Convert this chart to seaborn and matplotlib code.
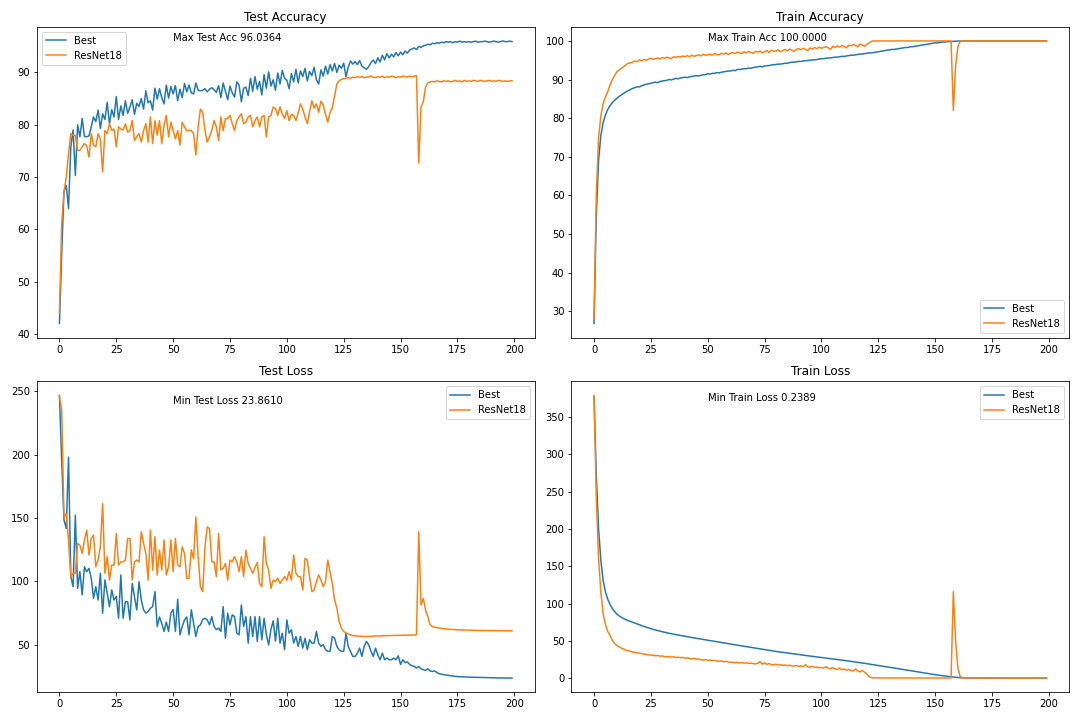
import matplotlib
matplotlib.use("Agg")
import matplotlib.pyplot as plt
import seaborn as sns
import numpy as np

epochs = np.arange(200)

test_acc_best = [
42.0, 55.5, 67.2, 68.4, 64.0, 75.7, 79.0, 70.3, 80.0, 77.7,
81.2, 77.8, 77.7, 77.9, 79.6, 81.5, 80.6, 82.8, 79.3, 82.1,
81.0, 84.3, 80.2, 82.9, 81.5, 85.4, 81.0, 83.6, 81.8, 84.6,
82.2, 83.4, 84.8, 82.0, 84.1, 83.5, 85.0, 83.0, 86.5, 84.2,
84.6, 82.8, 87.0, 84.9, 86.9, 85.2, 84.0, 87.6, 85.1, 87.3,
85.9, 87.5, 84.6, 86.8, 85.2, 87.9, 86.3, 87.6, 86.1, 85.9,
88.0, 86.6, 86.5, 86.6, 86.9, 86.3, 86.8, 87.1, 86.7, 86.2,
87.5, 85.2, 88.0, 86.4, 84.8, 87.4, 86.1, 85.3, 88.2, 87.6,
84.4, 87.0, 87.2, 85.6, 88.9, 86.4, 89.2, 86.8, 88.3, 85.7,
89.6, 87.0, 90.1, 87.4, 88.6, 86.6, 89.9, 87.8, 90.4, 88.9,
88.5, 86.9, 89.8, 88.2, 90.6, 88.0, 90.3, 89.2, 90.8, 88.4,
90.2, 89.4, 91.0, 88.6, 87.8, 90.5, 89.3, 91.2, 89.7, 91.5,
90.3, 91.7, 90.0, 91.4, 90.8, 91.8, 89.2, 91.0, 92.2, 91.6,
92.1, 91.5, 92.3, 91.2, 90.9, 90.6, 91.1, 91.9, 92.4, 91.7,
92.8, 92.0, 93.3, 92.4, 93.6, 92.8, 93.5, 93.0, 93.8, 93.2,
93.9, 93.4, 94.1, 93.7, 94.3, 94.5, 94.7, 94.4, 95.0, 94.8,
95.1, 95.2, 95.4, 95.3, 95.6, 95.5, 95.7, 95.6, 95.8, 95.7,
95.9, 95.8, 95.9, 95.7, 95.9, 95.8, 96.0, 95.8, 95.9, 95.8,
95.9, 95.8, 95.9, 96.0, 95.8, 95.9, 95.9, 96.0, 95.9, 95.8,
95.9, 96.0, 95.9, 95.8, 95.9, 96.0364, 95.9, 95.9, 96.0, 95.9,
]

test_acc_resnet = [
44.0, 61.0, 67.2, 70.0, 74.5, 78.3, 78.0, 78.0, 75.1, 75.1,
75.8, 76.4, 76.0, 73.8, 78.3, 76.1, 75.8, 78.3, 77.3, 71.0,
78.9, 78.3, 80.2, 78.9, 79.2, 75.8, 79.6, 79.2, 79.0, 80.2,
78.6, 78.9, 80.8, 77.0, 77.7, 78.3, 76.7, 78.9, 80.2, 76.7,
81.5, 76.4, 80.8, 78.0, 80.8, 76.4, 79.9, 81.8, 77.7, 80.5,
78.9, 77.3, 78.9, 76.1, 80.5, 79.6, 78.9, 78.9, 78.9, 78.3,
74.2, 79.6, 83.0, 82.4, 78.9, 76.7, 77.7, 78.9, 80.8, 79.6,
77.0, 81.5, 78.9, 81.2, 81.2, 81.8, 80.2, 78.9, 80.8, 81.5,
82.1, 80.2, 80.5, 81.5, 81.8, 79.6, 80.8, 81.5, 79.6, 81.5,
81.8, 77.7, 81.5, 81.8, 83.4, 83.1, 81.8, 83.4, 82.1, 81.2,
82.7, 80.8, 82.0, 81.8, 80.8, 82.3, 84.0, 83.0, 81.5, 80.2,
82.5, 84.6, 83.2, 84.0, 82.4, 84.5, 83.8, 82.0, 80.5, 82.4,
83.2, 85.5, 87.8, 88.4, 88.7, 88.8, 88.9, 89.0, 88.9, 89.1,
89.0, 89.2, 89.1, 89.2, 89.0, 89.1, 89.2, 89.3, 89.1, 89.0,
89.2, 89.1, 89.3, 89.0, 89.2, 89.1, 89.3, 89.2, 89.0, 89.2,
89.1, 89.3, 89.2, 89.1, 89.3, 89.2, 89.3, 89.4, 72.7, 83.4,
84.4, 87.2, 88.0, 88.2, 88.3, 88.2, 88.4, 88.3, 88.2, 88.4,
88.3, 88.4, 88.2, 88.3, 88.5, 88.3, 88.4, 88.2, 88.5, 88.3,
88.4, 88.3, 88.5, 88.4, 88.3, 88.5, 88.4, 88.3, 88.4, 88.5,
88.3, 88.4, 88.3, 88.5, 88.4, 88.3, 88.4, 88.3, 88.4, 88.4,
]

train_acc_best = [
26.8, 55.0, 69.0, 75.5, 78.8, 80.8, 82.2, 83.2, 84.0, 84.6,
85.1, 85.6, 86.0, 86.4, 86.8, 87.1, 87.4, 87.7, 87.9, 88.1,
88.1, 88.4, 88.6, 88.8, 88.9, 89.0, 89.2, 89.3, 89.2, 89.5,
89.6, 89.7, 89.8, 90.0, 89.9, 90.1, 90.3, 90.2, 90.4, 90.5,
90.6, 90.5, 90.7, 90.8, 90.9, 91.0, 90.9, 91.1, 91.2, 91.3,
91.5, 91.4, 91.6, 91.6, 91.8, 91.7, 91.9, 92.0, 92.1, 92.2,
92.2, 92.4, 92.3, 92.6, 92.6, 92.7, 92.8, 92.8, 93.0, 92.9,
93.1, 93.2, 93.3, 93.4, 93.3, 93.5, 93.6, 93.6, 93.8, 93.8,
93.9, 94.0, 94.0, 94.1, 94.2, 94.2, 94.4, 94.5, 94.5, 94.6,
94.7, 94.7, 94.8, 94.9, 94.9, 95.0, 95.1, 95.1, 95.2, 95.3,
95.4, 95.4, 95.5, 95.6, 95.6, 95.7, 95.8, 95.8, 95.9, 96.0,
96.0, 96.1, 96.2, 96.3, 96.3, 96.4, 96.5, 96.6, 96.6, 96.7,
96.8, 96.9, 96.9, 97.0, 97.1, 97.2, 97.3, 97.4, 97.5, 97.6,
97.7, 97.8, 97.8, 97.9, 98.0, 98.1, 98.2, 98.3, 98.3, 98.5,
98.5, 98.6, 98.7, 98.8, 98.9, 99.0, 99.1, 99.2, 99.3, 99.4,
99.5, 99.5, 99.6, 99.7, 99.7, 99.8, 99.8, 99.85, 99.9, 99.93,
99.96, 99.98, 99.99, 100.0, 100.0, 99.99, 100.0, 100.0, 100.0, 99.99,
100.0, 100.0, 99.99, 100.0, 100.0, 100.0, 99.99, 100.0, 100.0, 100.0,
99.99, 100.0, 100.0, 100.0, 99.99, 100.0, 100.0, 100.0, 100.0, 99.99,
100.0, 100.0, 100.0, 99.99, 100.0, 100.0, 100.0, 100.0, 100.0, 100.0,
]

train_acc_resnet = [
28.0, 60.0, 75.0, 80.5, 83.8, 85.5, 86.8, 88.5, 89.9, 91.0,
92.0, 92.4, 92.9, 93.3, 93.8, 94.2, 94.3, 94.5, 94.8, 94.6,
95.1, 94.9, 95.2, 95.0, 95.3, 95.5, 95.2, 95.4, 95.6, 95.3,
95.7, 95.5, 95.8, 95.6, 95.4, 95.9, 95.7, 96.0, 95.8, 96.1,
95.9, 96.2, 95.9, 96.3, 96.0, 96.2, 96.4, 96.1, 96.5, 96.3,
96.4, 96.6, 96.3, 96.7, 96.5, 96.4, 96.8, 96.6, 96.9, 96.5,
96.8, 97.0, 96.7, 97.1, 96.9, 96.7, 97.2, 96.9, 97.3, 97.0,
96.8, 97.3, 97.1, 97.4, 96.9, 97.2, 97.5, 97.0, 97.6, 97.3,
97.4, 97.7, 97.2, 97.5, 97.8, 97.4, 97.9, 97.6, 97.3, 97.8,
98.0, 97.7, 98.1, 97.8, 97.5, 98.2, 97.9, 98.3, 98.0, 98.4,
98.1, 98.3, 98.5, 98.2, 97.8, 98.6, 98.3, 98.7, 98.4, 98.8,
98.6, 98.2, 98.9, 98.7, 99.1, 98.8, 98.5, 99.2, 98.9, 98.6,
99.1, 99.5, 99.9, 100.0, 100.0, 100.0, 100.0, 100.0, 100.0, 100.0,
100.0, 100.0, 100.0, 100.0, 100.0, 100.0, 100.0, 100.0, 100.0, 100.0,
100.0, 100.0, 100.0, 100.0, 100.0, 100.0, 100.0, 100.0, 100.0, 100.0,
100.0, 100.0, 100.0, 100.0, 100.0, 100.0, 100.0, 100.0, 82.0, 93.5,
98.5, 99.9, 100.0, 100.0, 100.0, 100.0, 100.0, 100.0, 100.0, 100.0,
100.0, 100.0, 100.0, 100.0, 100.0, 100.0, 100.0, 100.0, 100.0, 100.0,
100.0, 100.0, 100.0, 100.0, 100.0, 100.0, 100.0, 100.0, 100.0, 100.0,
100.0, 100.0, 100.0, 100.0, 100.0, 100.0, 100.0, 100.0, 100.0, 100.0,
]

test_loss_best = [
246.5, 195.0, 148.3, 141.7, 198.0, 103.8, 95.9, 152.2, 94.6, 107.7,
89.4, 111.6, 107.7, 110.3, 102.5, 86.7, 95.9, 85.4, 106.4, 75.0,
101.2, 90.7, 80.2, 93.3, 85.4, 88.1, 71.0, 105.1, 71.0, 84.1,
84.1, 69.7, 98.5, 88.1, 77.6, 99.8, 85.4, 77.6, 75.0, 76.3,
78.9, 80.2, 92.0, 64.5, 72.0, 67.0, 60.6, 68.0, 60.6, 75.0,
78.0, 60.6, 86.0, 57.9, 64.5, 69.7, 72.0, 57.9, 77.6, 67.1,
56.6, 64.5, 65.8, 70.0, 71.0, 69.7, 65.8, 72.3, 64.5, 62.0,
63.2, 60.6, 80.2, 55.3, 75.0, 65.8, 73.7, 72.3, 59.3, 57.9,
81.5, 64.5, 72.3, 51.4, 72.3, 56.6, 72.3, 52.7, 72.3, 54.0,
71.0, 58.0, 50.0, 62.0, 69.0, 53.0, 71.0, 51.4, 59.2, 46.2,
69.7, 59.2, 61.9, 51.4, 56.6, 48.8, 56.6, 47.5, 55.3, 46.2,
54.0, 51.4, 51.4, 60.6, 51.4, 48.8, 50.1, 46.2, 44.9, 44.9,
56.6, 55.3, 48.8, 46.2, 44.9, 44.9, 59.2, 48.8, 44.9, 40.9,
40.9, 43.5, 47.5, 40.9, 48.8, 52.7, 50.1, 44.9, 40.9, 47.5,
42.2, 38.3, 43.5, 38.3, 39.6, 38.3, 38.3, 39.6, 38.3, 41.4,
34.6, 38.3, 36.1, 36.6, 34.6, 33.5, 33.1, 31.8, 33.0, 31.2,
30.5, 29.9, 31.2, 29.4, 29.1, 29.5, 28.2, 27.3, 26.9, 26.5,
26.3, 26.0, 25.7, 25.5, 25.2, 25.1, 24.9, 24.9, 24.8, 24.7,
24.6, 24.6, 24.5, 24.5, 24.4, 24.4, 24.3, 24.3, 24.2, 24.2,
24.1, 24.1, 24.0, 24.0, 23.96, 23.93, 23.9, 23.88, 23.861, 23.87,
]

test_loss_resnet = [
246.0, 234.7, 150.9, 153.5, 132.5, 103.8, 106.4, 106.4, 130.0, 128.6,
122.1, 132.5, 140.4, 120.8, 133.9, 136.5, 111.6, 116.8, 127.3, 161.4,
106.4, 119.5, 101.1, 112.9, 112.9, 137.8, 112.9, 115.5, 115.5, 116.8,
133.9, 133.9, 101.1, 115.5, 116.8, 115.5, 139.1, 130.0, 122.1, 101.1,
140.4, 109.0, 135.2, 105.1, 124.7, 109.0, 132.6, 105.1, 111.6, 132.6,
107.7, 133.9, 113.0, 111.6, 127.3, 122.0, 102.5, 102.5, 125.0, 118.0,
150.9, 119.5, 95.9, 92.0, 127.3, 143.0, 141.7, 115.5, 115.5, 103.8,
137.8, 109.0, 110.3, 114.2, 101.1, 116.8, 115.5, 119.5, 115.5, 107.7,
119.5, 104.0, 124.7, 114.2, 110.3, 106.4, 111.0, 115.0, 98.5, 95.9,
135.2, 114.2, 109.0, 94.6, 101.1, 100.0, 102.5, 98.5, 101.1, 103.8,
101.0, 107.7, 101.0, 120.8, 106.4, 103.8, 103.8, 93.3, 118.2, 116.8,
103.8, 92.0, 93.3, 99.8, 105.1, 101.0, 96.0, 99.8, 116.8, 107.7,
98.5, 85.4, 79.0, 68.4, 63.2, 60.6, 59.5, 58.6, 58.0, 57.4,
57.2, 57.0, 56.8, 56.8, 56.6, 56.6, 56.8, 56.7, 56.9, 57.0,
57.1, 57.0, 57.2, 57.3, 57.2, 57.4, 57.3, 57.5, 57.4, 57.6,
57.5, 57.6, 57.7, 57.6, 57.8, 57.7, 57.8, 57.9, 139.1, 81.5,
86.7, 77.6, 72.3, 65.8, 64.5, 64.0, 63.6, 63.2, 63.0, 62.8,
62.6, 62.4, 62.3, 62.2, 62.0, 61.9, 61.8, 61.8, 61.7, 61.7,
61.6, 61.6, 61.5, 61.5, 61.4, 61.4, 61.4, 61.3, 61.3, 61.3,
61.2, 61.2, 61.3, 61.2, 61.1, 61.2, 61.1, 61.2, 61.1, 61.1,
]

train_loss_best = [
377.0, 270.0, 200.0, 158.0, 131.0, 116.0, 106.0, 99.0, 93.5, 89.5,
86.0, 83.7, 81.7, 80.0, 78.5, 77.2, 76.1, 75.0, 74.0, 72.8,
71.6, 70.4, 69.3, 68.3, 67.3, 66.3, 65.4, 64.6, 63.8, 63.0,
62.3, 61.6, 60.9, 60.2, 59.6, 59.0, 58.5, 57.9, 57.3, 56.8,
56.2, 55.7, 55.1, 54.6, 54.0, 53.5, 53.0, 52.4, 51.9, 51.4,
50.9, 50.4, 49.9, 49.4, 48.9, 48.4, 47.9, 47.4, 46.9, 46.3,
45.8, 45.3, 44.8, 44.3, 43.8, 43.3, 42.8, 42.3, 41.7, 41.2,
40.7, 40.2, 39.7, 39.2, 38.7, 38.2, 37.7, 37.2, 36.7, 36.3,
35.9, 35.5, 35.1, 34.7, 34.3, 33.8, 33.4, 33.0, 32.6, 32.2,
31.8, 31.3, 30.9, 30.5, 30.1, 29.7, 29.3, 28.9, 28.5, 28.2,
27.8, 27.4, 27.0, 26.6, 26.2, 25.8, 25.5, 25.1, 24.7, 24.2,
23.8, 23.4, 23.0, 22.5, 22.1, 21.7, 21.3, 20.8, 20.4, 20.0,
19.5, 19.1, 18.6, 18.1, 17.6, 17.1, 16.6, 16.1, 15.6, 15.1,
14.6, 14.2, 13.7, 13.2, 12.7, 12.2, 11.7, 11.2, 10.7, 10.2,
9.7, 9.2, 8.7, 8.3, 7.8, 7.3, 6.8, 6.3, 5.8, 5.3,
4.8, 4.3, 3.9, 3.5, 3.1, 2.8, 2.4, 2.0, 1.6, 1.3,
1.0, 0.7, 0.5, 0.42, 0.36, 0.33, 0.31, 0.30, 0.29, 0.29,
0.28, 0.28, 0.27, 0.27, 0.27, 0.26, 0.26, 0.26, 0.26, 0.25,
0.25, 0.25, 0.25, 0.25, 0.25, 0.245, 0.245, 0.245, 0.244, 0.244,
0.243, 0.243, 0.242, 0.242, 0.241, 0.241, 0.240, 0.240, 0.2389, 0.2392,
]

train_loss_resnet = [
378.5, 243.0, 160.0, 115.0, 86.7, 72.0, 63.0, 57.5, 51.0, 46.5,
44.0, 42.0, 40.5, 39.0, 37.8, 36.8, 35.9, 35.2, 34.5, 34.0,
33.4, 33.0, 32.2, 32.0, 31.3, 31.0, 30.9, 30.1, 30.5, 29.6,
29.8, 29.0, 28.6, 29.1, 28.3, 28.7, 27.8, 28.2, 27.5, 27.9,
26.9, 27.3, 26.5, 26.0, 26.6, 25.5, 25.8, 25.0, 24.2, 25.1,
24.0, 24.5, 23.6, 23.9, 23.1, 22.5, 23.3, 22.0, 22.6, 21.8,
21.2, 21.6, 20.8, 21.3, 20.5, 20.9, 20.2, 20.6, 19.8, 20.3,
19.6, 19.2, 20.0, 22.5, 18.8, 20.6, 18.5, 19.8, 18.2, 17.9,
18.9, 17.6, 18.1, 17.2, 17.8, 16.9, 17.4, 16.6, 16.2, 17.0,
15.9, 16.5, 15.5, 18.3, 15.2, 14.8, 16.0, 14.5, 15.1, 14.0,
14.4, 13.6, 15.5, 13.2, 12.8, 14.2, 12.5, 11.9, 13.6, 11.5,
12.4, 10.6, 11.8, 10.2, 9.8, 12.3, 9.5, 8.6, 10.5, 8.0,
5.5, 2.0, 0.8, 0.5, 0.45, 0.42, 0.40, 0.40, 0.39, 0.39,
0.39, 0.38, 0.38, 0.38, 0.38, 0.37, 0.37, 0.37, 0.37, 0.37,
0.36, 0.36, 0.36, 0.36, 0.36, 0.36, 0.35, 0.35, 0.35, 0.35,
0.35, 0.35, 0.35, 0.34, 0.34, 0.34, 0.34, 0.34, 116.0, 50.0,
14.0, 2.5, 0.6, 0.35, 0.33, 0.32, 0.31, 0.31, 0.30, 0.30,
0.30, 0.30, 0.29, 0.29, 0.29, 0.29, 0.29, 0.29, 0.28, 0.28,
0.28, 0.28, 0.28, 0.28, 0.28, 0.28, 0.27, 0.27, 0.27, 0.27,
0.27, 0.27, 0.27, 0.27, 0.27, 0.27, 0.26, 0.26, 0.26, 0.26,
]

series_names = ["Best", "ResNet18"]
titles = ["Test Accuracy", "Train Accuracy", "Test Loss", "Train Loss"]

fig, axes = plt.subplots(2, 2, figsize=(15, 10), dpi=72)

panels = [
    (axes[0, 0], test_acc_best, test_acc_resnet, "Max Test Acc {:.4f}", max, None),
    (axes[0, 1], train_acc_best, train_acc_resnet, "Max Train Acc {:.4f}", max, None),
    (axes[1, 0], test_loss_best, test_loss_resnet, "Min Test Loss {:.4f}", min, 239.5),
    (axes[1, 1], train_loss_best, train_loss_resnet, "Min Train Loss {:.4f}", min, 371.0),
]

for (ax, best, res, fmt, fn, ytext), title in zip(panels, titles):
    sns.lineplot(x=epochs, y=np.array(best), ax=ax, label=series_names[0])
    sns.lineplot(x=epochs, y=np.array(res), ax=ax, label=series_names[1])
    ax.set_title(title, fontsize=12)
    ax.set_xlabel("")
    ax.set_ylabel("")
    stat = fn(best)
    if ytext is None:
        ytext = max(max(best), max(res))
    ax.text(50, ytext, fmt.format(stat), fontsize=10)
    ax.legend(loc="best", fontsize=10)
    ax.set_xticks([0, 25, 50, 75, 100, 125, 150, 175, 200])

fig.tight_layout()
fig.savefig("out.png", dpi=72)
